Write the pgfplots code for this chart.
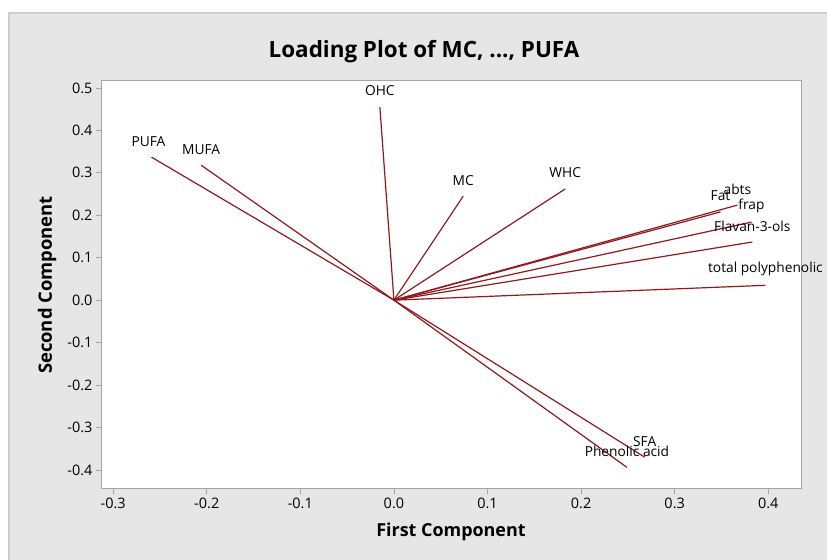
\documentclass[border=0pt]{standalone}
\usepackage{pgfplots}
\pgfplotsset{compat=1.18}
\usepackage{fontspec}
\setmainfont{Open Sans}
\definecolor{bg}{RGB}{230,230,230}
\definecolor{framec}{RGB}{205,205,205}
\definecolor{axisgray}{RGB}{165,165,165}
\definecolor{load}{RGB}{145,25,30}
\tikzset{lab/.style={font=\fontsize{13.8}{16}\selectfont, yshift=16bp, text=black}}
\begin{document}
\begin{tikzpicture}[x=1bp,y=1bp]
\useasboundingbox (0,0) rectangle (827,560);
\fill[white] (0,0) rectangle (827,560);
\fill[bg] (9,0) rectangle (827,547);
\draw[framec, line width=2bp] (9,0) -- (9,547) -- (827,547);
\node[font=\bfseries\fontsize{22.5}{26}\selectfont] at (424,508) {Loading Plot of MC, ..., PUFA};
\begin{axis}[
  at={(101bp,71bp)}, anchor=south west,
  scale only axis, width=700bp, height=408bp,
  xmin=-0.313, xmax=0.435, ymin=-0.445, ymax=0.5165,
  axis background/.style={fill=white},
  axis line style={axisgray, line width=1bp},
  tick style={axisgray, line width=0.8bp},
  major tick length=5bp, tick align=outside,
  xtick pos=bottom, ytick pos=left,
  xtick={-0.3,-0.2,-0.1,0,0.1,0.2,0.3,0.4},
  ytick={-0.4,-0.3,-0.2,-0.1,0,0.1,0.2,0.3,0.4,0.5},
  /pgf/number format/assume math mode=true,
  /pgf/number format/.cd, fixed, fixed zerofill, precision=1, /pgfplots/.cd,
  ticklabel style={font=\fontsize{14.5}{16}\selectfont, text=black},
  xticklabel style={yshift=-1bp},
  xlabel={First Component}, ylabel={Second Component},
  xlabel style={at={(axis description cs:0.5,-0.105)}, anchor=center, font=\bfseries\fontsize{18}{21}\selectfont},
  ylabel style={at={(axis description cs:-0.077,0.5)}, anchor=center, font=\bfseries\fontsize{18.5}{21}\selectfont},
  clip=false,
]
\addplot[load, line width=1.2bp] coordinates {(0,0) (-0.015,0.455)} node[pos=1, lab] {OHC};
\addplot[load, line width=1.2bp] coordinates {(0,0) (-0.259,0.337)} node[pos=1, lab, xshift=-3bp] {PUFA};
\addplot[load, line width=1.2bp] coordinates {(0,0) (-0.206,0.318)} node[pos=1, lab] {MUFA};
\addplot[load, line width=1.2bp] coordinates {(0,0) (0.074,0.245)} node[pos=1, lab] {MC};
\addplot[load, line width=1.2bp] coordinates {(0,0) (0.183,0.262)} node[pos=1, lab] {WHC};
\addplot[load, line width=1.2bp] coordinates {(0,0) (0.349,0.208)} node[pos=1, lab] {Fat};
\addplot[load, line width=1.2bp] coordinates {(0,0) (0.367,0.224)} node[pos=1, lab] {abts};
\addplot[load, line width=1.2bp] coordinates {(0,0) (0.382,0.184)} node[pos=1, lab] {frap};
\addplot[load, line width=1.2bp] coordinates {(0,0) (0.383,0.137)} node[pos=1, lab] {Flavan-3-ols};
\addplot[load, line width=1.2bp] coordinates {(0,0) (0.397,0.035)} node[pos=1, lab] {total polyphenolic};
\addplot[load, line width=1.2bp] coordinates {(0,0) (0.268,-0.370)} node[pos=1, lab] {SFA};
\addplot[load, line width=1.2bp] coordinates {(0,0) (0.249,-0.394)} node[pos=1, lab] {Phenolic acid};
\end{axis}
\end{tikzpicture}
\end{document}
